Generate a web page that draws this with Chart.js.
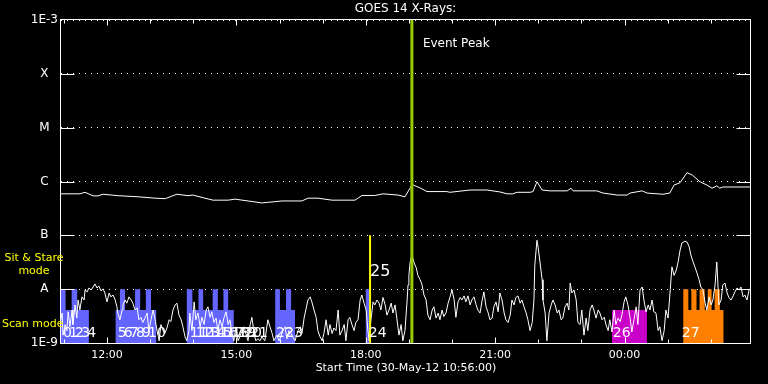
<!DOCTYPE html>
<html>
<head>
<meta charset="utf-8">
<script src="https://cdn.jsdelivr.net/npm/chart.js@4.4.1/dist/chart.umd.min.js"></script>
<style>
  html, body { margin: 0; background: #000; }
  canvas { display: block; }
</style>
</head>
<body>
<canvas id="goes" width="768" height="384"></canvas>
<script>
// time axis in hours of 30-May-12 (values > 24 are the next day)
const startHour = 10 + 56 / 60;
const endHour = startHour + 16;
const xTicks = [12, 15, 18, 21, 24];

const yTicks = [1e-9, 1e-8, 1e-7, 1e-6, 1e-5, 1e-4, 1e-3];
const yLabels = ['1E-9', 'A', 'B', 'C', 'M', 'X', '1E-3'];

// long channel (1-8 A), W/m^2
const longTime = [
  10.93, 11.37, 11.49, 11.68, 11.79, 11.91, 12.26, 12.72, 13.11, 13.35,
  13.62, 13.88, 13.99, 14.27, 14.46, 14.81, 14.97, 15.27, 15.50, 15.59,
  15.73, 16.06, 16.52, 16.66, 16.89, 17.22, 17.75, 17.82, 17.91, 18.21,
  18.40, 18.75, 18.91, 19.03, 19.07, 19.10, 19.26, 19.42, 19.88, 19.95,
  20.42, 20.81, 21.11, 21.28, 21.41, 21.51, 21.81, 21.88, 21.97, 22.09,
  22.27, 22.67, 22.76, 22.81, 23.36, 23.50, 23.83, 24.06, 24.13, 24.41,
  24.52, 24.89, 25.05, 25.15, 25.29, 25.45, 25.57, 25.75, 25.91, 26.03,
  26.14, 26.21, 26.28, 26.84, 26.93
];
const longFlux = [
  5.9e-7, 5.9e-7, 6.3e-7, 5.4e-7, 5.4e-7, 5.8e-7, 5.45e-7, 5.2e-7, 4.9e-7, 4.8e-7,
  5.8e-7, 5.45e-7, 5.6e-7, 4.9e-7, 4.5e-7, 4.5e-7, 4.7e-7, 4.35e-7, 4.1e-7, 4.0e-7,
  4.1e-7, 4.35e-7, 4.35e-7, 4.9e-7, 4.9e-7, 4.5e-7, 4.5e-7, 4.9e-7, 5.5e-7, 5.5e-7,
  5.9e-7, 5.6e-7, 5.2e-7, 7.6e-7, 8.6e-7, 8.6e-7, 7.6e-7, 6.5e-7, 6.5e-7, 6.3e-7,
  6.95e-7, 6.95e-7, 6.4e-7, 5.9e-7, 5.9e-7, 6.3e-7, 6.3e-7, 6.5e-7, 9.9e-7, 6.95e-7,
  6.7e-7, 6.7e-7, 7.5e-7, 6.7e-7, 6.7e-7, 6.1e-7, 5.6e-7, 5.6e-7, 6.1e-7, 6.7e-7,
  6.1e-7, 5.8e-7, 6.1e-7, 8.6e-7, 9.5e-7, 14.6e-7, 13.2e-7, 9.9e-7, 8.6e-7, 7.5e-7,
  8.3e-7, 7.5e-7, 7.9e-7, 7.9e-7, 7.9e-7
];

// short channel (0.5-4 A), W/m^2
const shortTime = [
  10.93, 10.96, 10.98, 11.03, 11.07, 11.10, 11.14, 11.19, 11.21, 11.26,
  11.30, 11.33, 11.37, 11.42, 11.47, 11.49, 11.54, 11.58, 11.63, 11.68,
  11.72, 11.77, 11.81, 11.86, 11.91, 11.95, 12.00, 12.05, 12.09, 12.14,
  12.19, 12.23, 12.25, 12.30, 12.35, 12.37, 12.42, 12.46, 12.51, 12.56,
  12.60, 12.65, 12.70, 12.74, 12.79, 12.83, 12.88, 12.93, 12.97, 13.02,
  13.07, 13.11, 13.16, 13.21, 13.25, 13.30, 13.34, 13.39, 13.44, 13.48,
  13.53, 13.58, 13.62, 13.67, 13.72, 13.76, 13.81, 13.85, 13.90, 13.92,
  13.97, 14.02, 14.06, 14.11, 14.16, 14.20, 14.25, 14.30, 14.34, 14.39,
  14.43, 14.48, 14.53, 14.57, 14.62, 14.67, 14.71, 14.76, 14.81, 14.85,
  14.90, 14.94, 14.99, 15.04, 15.08, 15.13, 15.18, 15.22, 15.27, 15.32,
  15.36, 15.41, 15.45, 15.50, 15.55, 15.59, 15.66, 15.73, 15.78, 15.83,
  15.87, 15.94, 15.99, 16.03, 16.08, 16.13, 16.17, 16.22, 16.27, 16.31,
  16.36, 16.43, 16.48, 16.52, 16.57, 16.61, 16.66, 16.71, 16.75, 16.80,
  16.85, 16.89, 16.94, 16.99, 17.03, 17.08, 17.13, 17.17, 17.22, 17.26,
  17.31, 17.36, 17.40, 17.45, 17.50, 17.54, 17.59, 17.63, 17.68, 17.73,
  17.77, 17.82, 17.87, 17.91, 17.96, 18.01, 18.05, 18.08, 18.12, 18.17,
  18.21, 18.26, 18.31, 18.35, 18.40, 18.45, 18.49, 18.54, 18.59, 18.63,
  18.68, 18.72, 18.77, 18.82, 18.86, 18.91, 18.96, 18.98, 19.00, 19.03,
  19.07, 19.12, 19.17, 19.21, 19.26, 19.30, 19.35, 19.40, 19.44, 19.49,
  19.54, 19.58, 19.63, 19.68, 19.72, 19.77, 19.81, 19.86, 19.91, 19.95,
  20.00, 20.05, 20.09, 20.14, 20.19, 20.23, 20.28, 20.32, 20.37, 20.42,
  20.46, 20.51, 20.56, 20.60, 20.65, 20.70, 20.74, 20.79, 20.84, 20.88,
  20.93, 20.97, 21.02, 21.07, 21.11, 21.16, 21.21, 21.25, 21.30, 21.35,
  21.39, 21.44, 21.48, 21.53, 21.58, 21.62, 21.67, 21.72, 21.76, 21.81,
  21.86, 21.90, 21.92, 21.97, 21.99, 22.04, 22.09, 22.11, 22.16, 22.20,
  22.25, 22.30, 22.34, 22.39, 22.44, 22.48, 22.53, 22.57, 22.62, 22.67,
  22.71, 22.74, 22.78, 22.83, 22.88, 22.92, 22.97, 23.01, 23.06, 23.11,
  23.15, 23.20, 23.25, 23.29, 23.34, 23.39, 23.43, 23.48, 23.53, 23.57,
  23.62, 23.66, 23.71, 23.76, 23.80, 23.85, 23.90, 23.94, 23.99, 24.03,
  24.08, 24.13, 24.17, 24.22, 24.27, 24.31, 24.36, 24.41, 24.45, 24.50,
  24.55, 24.59, 24.64, 24.68, 24.73, 24.78, 24.82, 24.87, 24.92, 24.96,
  25.01, 25.06, 25.10, 25.15, 25.20, 25.24, 25.29, 25.33, 25.40, 25.45,
  25.50, 25.54, 25.59, 25.64, 25.68, 25.73, 25.77, 25.82, 25.87, 25.91,
  25.96, 26.01, 26.05, 26.10, 26.14, 26.19, 26.24, 26.28, 26.33, 26.38,
  26.42, 26.47, 26.52, 26.56, 26.61, 26.66, 26.70, 26.75, 26.79, 26.84,
  26.89, 26.93
];
const shortFlux = [
  2.7e-9, 3.6e-9, 1.4e-9, 2.2e-9, 1.7e-9, 3.8e-9, 2.0e-9, 4.1e-9, 2.2e-9, 5.1e-9,
  2.9e-9, 6.3e-9, 4.1e-9, 7.2e-9, 6.3e-9, 9.7e-9, 8.9e-9, 10.5e-9, 9.7e-9, 11e-9,
  12.5e-9, 10.5e-9, 11.5e-9, 9.3e-9, 10.1e-9, 8.5e-9, 5.8e-9, 8.5e-9, 7.2e-9, 7.8e-9,
  6.3e-9, 4.7e-9, 3.6e-9, 2.7e-9, 4.1e-9, 5.1e-9, 6.3e-9, 5.5e-9, 7.2e-9, 6.3e-9,
  5.5e-9, 4.1e-9, 4.5e-9, 2.7e-9, 3.0e-9, 2.4e-9, 2.9e-9, 3.6e-9, 1.7e-9, 2.7e-9,
  4.1e-9, 2.9e-9, 1.7e-9, 1.1e-9, 2.2e-9, 1.7e-9, 1.5e-9, 1.9e-9, 2.7e-9, 2.5e-9,
  4.1e-9, 5.1e-9, 5.5e-9, 3.3e-9, 2.7e-9, 2.0e-9, 1.3e-9, 1.1e-9, 1.7e-9, 3.6e-9,
  1.7e-9, 5.8e-9, 2.7e-9, 3.6e-9, 2.0e-9, 3.0e-9, 2.2e-9, 4.1e-9, 4.7e-9, 3.0e-9,
  3.8e-9, 2.4e-9, 2.9e-9, 1.7e-9, 2.7e-9, 2.0e-9, 2.9e-9, 3.8e-9, 2.2e-9, 2.7e-9,
  1.5e-9, 1.1e-9, 2.0e-9, 1.1e-9, 1.3e-9, 1.7e-9, 2.0e-9, 1.5e-9, 1.1e-9, 2.2e-9,
  3.0e-9, 1.5e-9, 1.1e-9, 1.2e-9, 1.1e-9, 1.3e-9, 1.1e-9, 2.7e-9, 2.0e-9, 1.5e-9,
  1.1e-9, 1.4e-9, 1.1e-9, 1.3e-9, 1.7e-9, 2.0e-9, 1.2e-9, 1.7e-9, 1.5e-9, 1.3e-9,
  1.1e-9, 1.7e-9, 2.0e-9, 1.5e-9, 2.9e-9, 4.1e-9, 6.3e-9, 7.2e-9, 5.8e-9, 4.1e-9,
  3.0e-9, 1.7e-9, 1.3e-9, 1.1e-9, 1.5e-9, 2.7e-9, 1.4e-9, 2.2e-9, 1.5e-9, 1.9e-9,
  1.7e-9, 4.1e-9, 1.4e-9, 1.7e-9, 2.2e-9, 1.1e-9, 2.7e-9, 3.0e-9, 2.2e-9, 1.7e-9,
  2.4e-9, 2.7e-9, 6.3e-9, 7.8e-9, 5.5e-9, 4.1e-9, 1.7e-9, 1.1e-9, 2.7e-9, 5.8e-9,
  5.1e-9, 6.3e-9, 5.5e-9, 4.1e-9, 7.0e-9, 5.1e-9, 3.3e-9, 4.1e-9, 5.5e-9, 3.6e-9,
  5.1e-9, 2.9e-9, 1.4e-9, 2.2e-9, 1.1e-9, 1.7e-9, 6.3e-9, 12e-9, 18e-9, 32e-9,
  43e-9, 31e-9, 25e-9, 18e-9, 15e-9, 12.5e-9, 7.8e-9, 6.3e-9, 3.3e-9, 2.7e-9,
  4.1e-9, 4.7e-9, 2.9e-9, 3.6e-9, 2.7e-9, 4.1e-9, 3.1e-9, 3.6e-9, 5.5e-9, 7.0e-9,
  9.7e-9, 6.3e-9, 3.0e-9, 5.8e-9, 7.0e-9, 6.3e-9, 7.5e-9, 5.8e-9, 7.5e-9, 5.1e-9,
  6.3e-9, 7.2e-9, 5.1e-9, 4.1e-9, 3.6e-9, 6.3e-9, 8.9e-9, 4.7e-9, 3.6e-9, 2.7e-9,
  2.9e-9, 4.7e-9, 5.8e-9, 3.8e-9, 8.5e-9, 6.3e-9, 3.6e-9, 2.7e-9, 2.4e-9, 3.3e-9,
  6.3e-9, 5.1e-9, 7.0e-9, 7.5e-9, 5.5e-9, 6.3e-9, 4.7e-9, 3.6e-9, 2.7e-9, 1.7e-9,
  2.4e-9, 6.3e-9, 28e-9, 81e-9, 66e-9, 32e-9, 15e-9, 6.3e-9, 3.6e-9, 1.1e-9,
  3.6e-9, 5.1e-9, 6.3e-9, 5.1e-9, 3.6e-9, 4.1e-9, 2.7e-9, 2.9e-9, 4.7e-9, 5.5e-9,
  4.1e-9, 13e-9, 8.5e-9, 9.7e-9, 6.3e-9, 2.4e-9, 2.2e-9, 4.1e-9, 1.4e-9, 2.9e-9,
  1.7e-9, 4.1e-9, 5.1e-9, 4.1e-9, 2.9e-9, 4.1e-9, 3.6e-9, 2.7e-9, 3.0e-9, 2.2e-9,
  1.7e-9, 2.7e-9, 1.6e-9, 4.1e-9, 2.2e-9, 2.9e-9, 2.5e-9, 3.3e-9, 5.8e-9, 7.2e-9,
  5.1e-9, 2.9e-9, 1.6e-9, 2.7e-9, 4.7e-9, 2.2e-9, 9.7e-9, 11e-9, 6.3e-9, 3.8e-9,
  5.1e-9, 4.1e-9, 6.3e-9, 3.8e-9, 3.6e-9, 1.7e-9, 2.0e-9, 1.1e-9, 1.7e-9, 4.1e-9,
  2.9e-9, 9.7e-9, 26e-9, 18e-9, 22.5e-9, 31e-9, 53.5e-9, 72e-9, 78e-9, 75e-9,
  61e-9, 43e-9, 32e-9, 25e-9, 20e-9, 15e-9, 11e-9, 9.7e-9, 5.5e-9, 4.1e-9,
  7.2e-9, 5.1e-9, 6.3e-9, 12e-9, 32e-9, 5.1e-9, 6.3e-9, 12e-9, 13e-9, 8.5e-9,
  7.0e-9, 6.3e-9, 7.5e-9, 8.9e-9, 10.5e-9, 9.7e-9, 11e-9, 7.2e-9, 7.8e-9, 6.3e-9,
  9.7e-9, 10.5e-9
];

// scan mode blocks: [start hour, end hour, top level]
const blueBlocks = [
  [10.93, 11.04, 1e-8], [11.04, 11.18, 4.1e-9], [11.18, 11.31, 1e-8], [11.31, 11.58, 4.1e-9],
  [12.20, 12.30, 4.1e-9], [12.30, 12.42, 1e-8], [12.42, 12.65, 4.1e-9], [12.65, 12.77, 1e-8],
  [12.77, 12.90, 4.1e-9], [12.90, 13.02, 1e-8], [13.02, 13.14, 4.1e-9],
  [13.85, 13.98, 1e-8], [13.98, 14.12, 4.1e-9], [14.12, 14.23, 1e-8], [14.23, 14.45, 4.1e-9],
  [14.45, 14.57, 1e-8], [14.57, 14.70, 4.1e-9], [14.70, 14.81, 1e-8], [14.81, 14.94, 4.1e-9],
  [15.90, 16.01, 1e-8], [16.01, 16.15, 4.1e-9], [16.15, 16.27, 1e-8], [16.27, 16.36, 4.1e-9],
  [18.00, 18.08, 1e-8]
];
const magentaBlocks = [[23.71, 24.52, 4.1e-9]];
const orangeBlocks = [
  [25.36, 25.48, 1e-8], [25.48, 25.55, 4.1e-9], [25.55, 25.67, 1e-8], [25.67, 25.74, 4.1e-9],
  [25.74, 25.86, 1e-8], [25.86, 25.93, 4.1e-9], [25.93, 26.02, 1e-8], [26.02, 26.09, 4.1e-9],
  [26.09, 26.21, 1e-8], [26.21, 26.30, 4.1e-9]
];

const scanLabels = ['0', '1', '2', '3', '4', '5', '6', '7', '8', '9', '10',
  '11', '12', '13', '14', '15', '16', '17', '18', '19', '20', '21', '22', '23', '24', '26', '27'];
const scanTimes = [10.98, 11.12, 11.26, 11.40, 11.54, 12.25, 12.39, 12.53, 12.67, 12.81, 12.95,
  13.92, 14.06, 14.20, 14.34, 14.48, 14.62, 14.76, 14.90, 15.04, 15.18, 15.32, 15.92, 16.13,
  18.07, 23.73, 25.33];
const stareLabels = ['25'];
const stareTimes = [18.10];
const eventPeak = 19.07;

const FONT = 'DejaVu Sans';
const floor = yTicks[0];

function pairs(xs, ys) {
  return xs.map((t, i) => ({ x: t, y: ys[i] }));
}

function blockPoints(blocks) {
  const pts = [];
  blocks.forEach(([t0, t1, lvl]) => {
    pts.push({ x: t0, y: floor }, { x: t0, y: lvl }, { x: t1, y: lvl }, { x: t1, y: floor });
  });
  return pts;
}

function blockSet(blocks, color) {
  return {
    data: blockPoints(blocks),
    borderWidth: 0,
    borderColor: 'rgba(0,0,0,0)',
    backgroundColor: color,
    fill: 'start',
    pointRadius: 0,
    tension: 0
  };
}

function lineSet(data, color, width) {
  return { data, borderColor: color, borderWidth: width, pointRadius: 0, fill: false, tension: 0 };
}

const overlay = {
  id: 'overlay',
  afterDatasetsDraw(chart) {
    const { ctx, chartArea: a, scales: { x, y } } = chart;
    const L = Math.round(a.left) - 0.5, R = Math.round(a.right) - 0.5;
    const T = Math.round(a.top) - 0.5, B = Math.round(a.bottom) + 0.5;
    ctx.save();
    ctx.strokeStyle = '#fff';
    ctx.lineWidth = 1;
    ctx.strokeRect(L, T, R - L, B - T);
    ctx.beginPath();
    yTicks.slice(1, -1).forEach(v => {
      const py = Math.round(y.getPixelForValue(v)) + 0.5;
      ctx.moveTo(L, py); ctx.lineTo(L + 14, py);
      ctx.moveTo(R - 14, py); ctx.lineTo(R, py);
    });
    for (let h = Math.ceil(x.min); h <= x.max; h++) {
      const px = Math.round(x.getPixelForValue(h)) + 0.5;
      const len = h % 3 === 0 ? 6 : 4;
      ctx.moveTo(px, T); ctx.lineTo(px, T + len);
      ctx.moveTo(px, B); ctx.lineTo(px, B - len);
    }
    ctx.stroke();

    ctx.fillStyle = '#fff';
    ctx.textBaseline = 'middle';
    ctx.textAlign = 'center';
    ctx.font = '12px "' + FONT + '"';
    ctx.fillText('GOES 14 X-Rays:', (L + R) / 2, 9);

    ctx.textAlign = 'left';
    ctx.fillText('Event Peak', x.getPixelForValue(eventPeak) + 11, T + 24);

    ctx.font = '14px "' + FONT + '"';
    const yScan = y.getPixelForValue(floor) - 10;
    scanLabels.forEach((s, i) => ctx.fillText(s, x.getPixelForValue(scanTimes[i]), yScan));
    ctx.font = '16px "' + FONT + '"';
    const yStare = y.getPixelForValue(1e-8) - 17;
    stareLabels.forEach((s, i) => ctx.fillText(s, x.getPixelForValue(stareTimes[i]), yStare));

    ctx.fillStyle = '#ffff00';
    ctx.font = '11px "' + FONT + '"';
    ctx.textAlign = 'center';
    const yB = y.getPixelForValue(1e-7), yA = y.getPixelForValue(1e-8);
    ctx.fillText('Sit & Stare', 34, yB + 23);
    ctx.fillText('mode', 34, yB + 36);
    ctx.textAlign = 'left';
    ctx.fillText('Scan mode', 2, yA + 35);
    ctx.restore();
  }
};

new Chart(document.getElementById('goes'), {
  type: 'line',
  data: {
    datasets: [
      lineSet([{ x: eventPeak, y: yTicks[6] }, { x: eventPeak, y: floor }], '#99cc00', 3),
      lineSet([{ x: stareTimes[0], y: 1e-7 }, { x: stareTimes[0], y: floor }], '#ffff00', 2),
      lineSet(pairs(longTime, longFlux), '#ffffff', 1),
      lineSet(pairs(shortTime, shortFlux), '#ffffff', 1),
      blockSet(blueBlocks, '#6464ff'),
      blockSet(magentaBlocks, '#c800c8'),
      blockSet(orangeBlocks, '#ff8000')
    ]
  },
  options: {
    responsive: false,
    animation: false,
    devicePixelRatio: 1,
    events: [],
    layout: { padding: { top: 20, right: 17, left: 0, bottom: 0 } },
    plugins: { legend: { display: false }, tooltip: { enabled: false } },
    scales: {
      x: {
        type: 'linear',
        min: startHour,
        max: endHour,
        afterFit: s => { s.height = 41; },
        afterBuildTicks: s => { s.ticks = xTicks.map(v => ({ value: v })); },
        grid: { display: false, drawTicks: false },
        border: { display: false },
        ticks: {
          color: '#fff',
          font: { family: FONT, size: 11 },
          padding: 6,
          maxRotation: 0,
          autoSkip: false,
          callback: v => String(v % 24).padStart(2, '0') + ':00'
        },
        title: {
          display: true,
          text: 'Start Time (30-May-12 10:56:00)',
          color: '#fff',
          font: { family: FONT, size: 11 },
          padding: { top: 0, bottom: 9 }
        }
      },
      y: {
        type: 'logarithmic',
        min: yTicks[0],
        max: yTicks[yTicks.length - 1],
        afterFit: s => { s.width = 61; },
        afterBuildTicks: s => { s.ticks = yTicks.map(v => ({ value: v })); },
        grid: { color: '#fff', lineWidth: 1, drawTicks: false },
        border: { display: false, dash: [1, 5] },
        ticks: {
          color: '#fff',
          font: { family: FONT, size: 12 },
          crossAlign: 'center',
          padding: 3,
          callback: v => yLabels[yTicks.indexOf(v)]
        }
      }
    }
  },
  plugins: [overlay]
});
</script>
</body>
</html>
